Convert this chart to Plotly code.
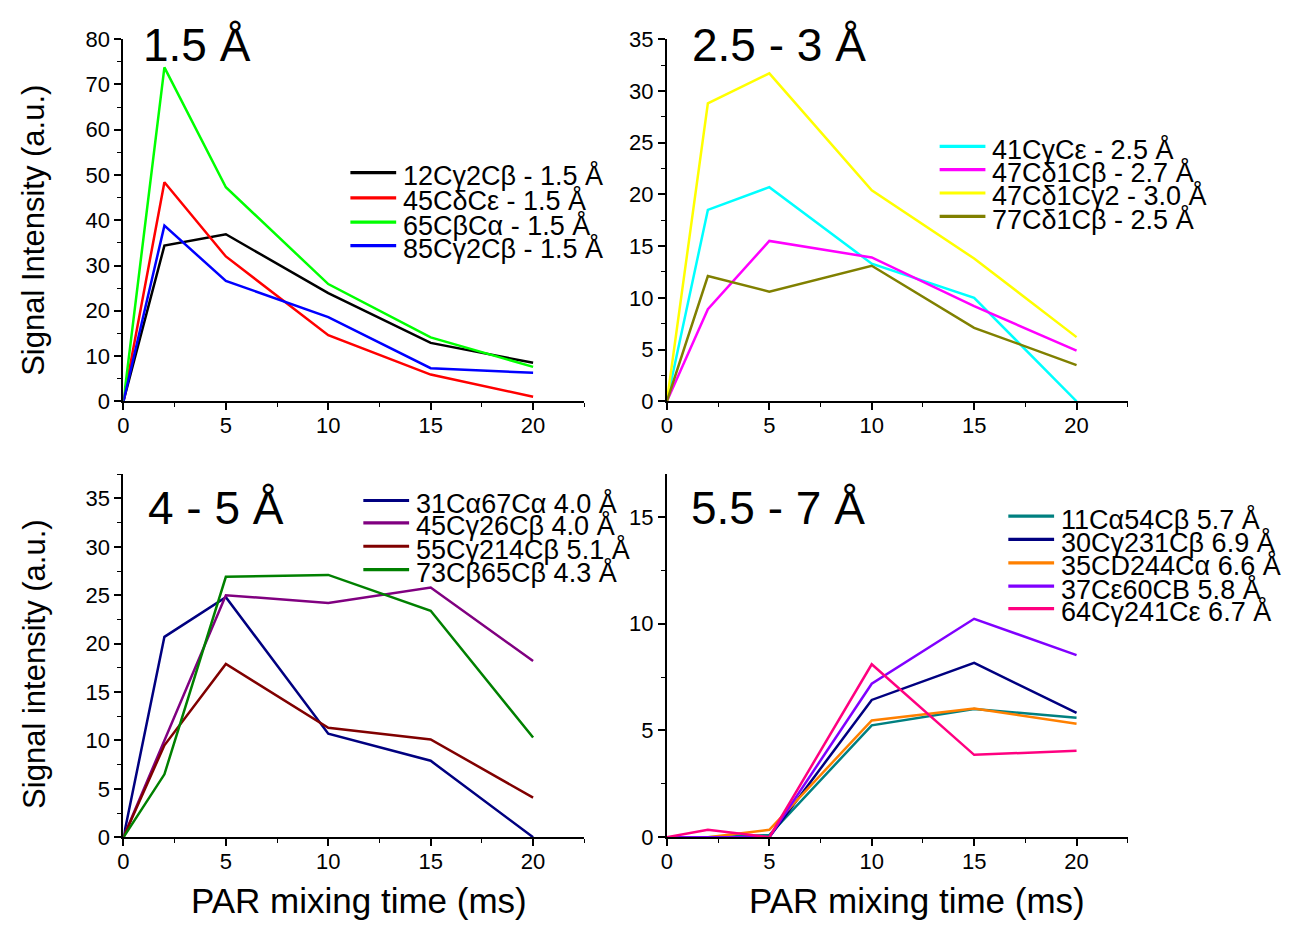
import plotly.graph_objects as go

# Mixing times (ms) shared by all panels
mix_time = [0, 2, 5, 10, 15, 20]

# Panel A: 1.5 Å contacts
a_names = ["12Cγ2Cβ - 1.5 Å", "45CδCε - 1.5 Å", "65CβCα - 1.5 Å", "85Cγ2Cβ - 1.5 Å"]
a_colors = ["#000000", "#FF0000", "#00FF00", "#0000FF"]
a_12CgCb = [0, 34.4, 36.9, 23.9, 12.9, 8.5]
a_45CdCe = [0, 48.4, 32.0, 14.6, 5.9, 1.0]
a_65CbCa = [0, 73.8, 47.3, 25.9, 14.1, 7.6]
a_85CgCb = [0, 38.8, 26.6, 18.6, 7.3, 6.3]

# Panel B: 2.5 - 3 Å contacts
b_names = ["41CγCε - 2.5 Å", "47Cδ1Cβ - 2.7 Å", "47Cδ1Cγ2 - 3.0 Å", "77Cδ1Cβ - 2.5 Å"]
b_colors = ["#00FFFF", "#FF00FF", "#FFFF00", "#808000"]
b_41CgCe = [0, 18.5, 20.7, 13.3, 10.0, 0.0]
b_47Cd1Cb = [0, 8.9, 15.5, 13.9, 9.2, 4.9]
b_47Cd1Cg2 = [0, 28.8, 31.7, 20.4, 13.8, 6.2]
b_77Cd1Cb = [0, 12.1, 10.6, 13.1, 7.1, 3.5]

# Panel C: 4 - 5 Å contacts
c_names = ["31Cα67Cα 4.0 Å", "45Cγ26Cβ 4.0 Å", "55Cγ214Cβ 5.1 Å", "73Cβ65Cβ 4.3 Å"]
c_colors = ["#000080", "#800080", "#800000", "#008000"]
c_31Ca67Ca = [0, 20.7, 24.8, 10.7, 7.9, 0.0]
c_45Cg26Cb = [0, 10.0, 25.0, 24.2, 25.8, 18.2]
c_55Cg214Cb = [0, 9.5, 17.9, 11.3, 10.1, 4.1]
c_73Cb65Cb = [0, 6.5, 26.9, 27.1, 23.4, 10.3]

# Panel D: 5.5 - 7 Å contacts
d_names = ["11Cα54Cβ 5.7 Å", "30Cγ231Cβ 6.9 Å", "35CD244Cα 6.6 Å", "37Cε60CB 5.8 Å", "64Cγ241Cε 6.7 Å"]
d_colors = ["#008080", "#000080", "#FF8000", "#8000FF", "#FF0080"]
d_11Ca54Cb = [0, 0, 0.1, 5.24, 6.0, 5.6]
d_30Cg231Cb = [0, 0, 0, 6.43, 8.17, 5.82]
d_35CD244Ca = [0, 0, 0.35, 5.47, 6.03, 5.31]
d_37Ce60CB = [0, 0, 0, 7.19, 10.23, 8.53]
d_64Cg241Ce = [0, 0.35, 0, 8.1, 3.86, 4.05]

panel_titles = ["1.5 Å", "2.5 - 3 Å", "4 - 5 Å", "5.5 - 7 Å"]
y_titles = ["Signal Intensity (a.u.)", "Signal intensity (a.u.)"]
x_title = "PAR mixing time (ms)"

W, H = 1289, 931
FONT = "Liberation Sans, Arial, sans-serif"


def px(x):
    return x / W


def py(y):
    return 1 - y / H


panels = [
    dict(series=[a_12CgCb, a_45CdCe, a_65CbCa, a_85CgCb], names=a_names, colors=a_colors,
         xd=(118, 581), yd=(400, 28), yr=80, dt=10, mdt=5,
         leg_x=346, leg_rows=[165, 191, 216, 240], title_xy=(136, 34)),
    dict(series=[b_41CgCe, b_47Cd1Cb, b_47Cd1Cg2, b_77Cd1Cb], names=b_names, colors=b_colors,
         xd=(664, 1127), yd=(400, 28), yr=35, dt=5, mdt=2.5,
         leg_x=938, leg_rows=[138, 162, 186, 210], title_xy=(687, 34)),
    dict(series=[c_31Ca67Ca, c_45Cg26Cb, c_55Cg214Cb, c_73Cb65Cb], names=c_names, colors=c_colors,
         xd=(118, 581), yd=(848, 475), yr=37.5, dt=5, mdt=2.5,
         leg_x=359, leg_rows=[502, 525, 549, 573], title_xy=(141, 510)),
    dict(series=[d_11Ca54Cb, d_30Cg231Cb, d_35CD244Ca, d_37Ce60CB, d_64Cg241Ce], names=d_names, colors=d_colors,
         xd=(664, 1127), yd=(848, 475), yr=17, dt=5, mdt=2.5,
         leg_x=1007, leg_rows=[518, 542, 566, 590, 613], title_xy=(686, 510)),
]

fig = go.Figure()
annotations = []
shapes = []
layout = {}

for i, p in enumerate(panels):
    k = "" if i == 0 else str(i + 1)
    for vals, name, color in zip(p["series"], p["names"], p["colors"]):
        fig.add_trace(go.Scatter(
            x=mix_time, y=vals, name=name, mode="lines",
            line=dict(color=color, width=2.5),
            xaxis="x" + k, yaxis="y" + k, showlegend=False,
        ))

    axis_common = dict(
        showline=True, linecolor="black", linewidth=2.2,
        ticks="outside", ticklen=7, tickwidth=1.6, tickcolor="black",
        showgrid=False, zeroline=False,
        tickfont=dict(family=FONT, size=22, color="black"),
    )
    layout["xaxis" + k] = dict(
        axis_common,
        domain=[px(p["xd"][0]), px(p["xd"][1])],
        range=[0, 22.5], tickmode="linear", tick0=0, dtick=5,
        minor=dict(ticks="outside", ticklen=4, tickwidth=1.4, tickcolor="black", dtick=2.5),
        ticklabelstandoff=-4,
        anchor="y" + k,
    )
    layout["yaxis" + k] = dict(
        axis_common,
        domain=[py(p["yd"][0]), py(p["yd"][1])],
        range=[0, p["yr"]], tickmode="linear", tick0=0, dtick=p["dt"],
        minor=dict(ticks="outside", ticklen=4, tickwidth=1.4, tickcolor="black", dtick=p["mdt"]),
        anchor="x" + k,
    )

    # panel heading
    tx, ty = p["title_xy"]
    annotations.append(dict(
        text=panel_titles[i], xref="paper", yref="paper", x=px(tx), y=py(ty),
        xanchor="left", yanchor="middle", showarrow=False,
        font=dict(family=FONT, size=46, color="black"),
    ))

    # key: line sample + label for each series
    for row, name, color in zip(p["leg_rows"], p["names"], p["colors"]):
        shapes.append(dict(
            type="line", xref="paper", yref="paper",
            x0=px(p["leg_x"]), x1=px(p["leg_x"] + 46), y0=py(row), y1=py(row),
            line=dict(color=color, width=3.2),
        ))
        annotations.append(dict(
            text=name, xref="paper", yref="paper", x=px(p["leg_x"] + 51), y=py(row + 3),
            xanchor="left", yanchor="middle", showarrow=False,
            font=dict(family=FONT, size=27, color="black"),
        ))

# axis titles
annotations.append(dict(text=y_titles[0], xref="paper", yref="paper", x=px(28), y=py(224),
                        textangle=-90, xanchor="center", yanchor="middle", showarrow=False,
                        font=dict(family=FONT, size=31, color="black")))
annotations.append(dict(text=y_titles[1], xref="paper", yref="paper", x=px(28), y=py(670),
                        textangle=-90, xanchor="center", yanchor="middle", showarrow=False,
                        font=dict(family=FONT, size=31, color="black")))
for cx in (355, 915):
    annotations.append(dict(text=x_title, xref="paper", yref="paper", x=px(cx), y=py(913),
                            xanchor="center", yanchor="middle", showarrow=False,
                            font=dict(family=FONT, size=35, color="black")))

fig.update_layout(
    width=W, height=H,
    margin=dict(l=0, r=0, t=0, b=0),
    paper_bgcolor="white", plot_bgcolor="white",
    showlegend=False,
    annotations=annotations, shapes=shapes,
    **layout,
)

fig.write_html("out.html")
